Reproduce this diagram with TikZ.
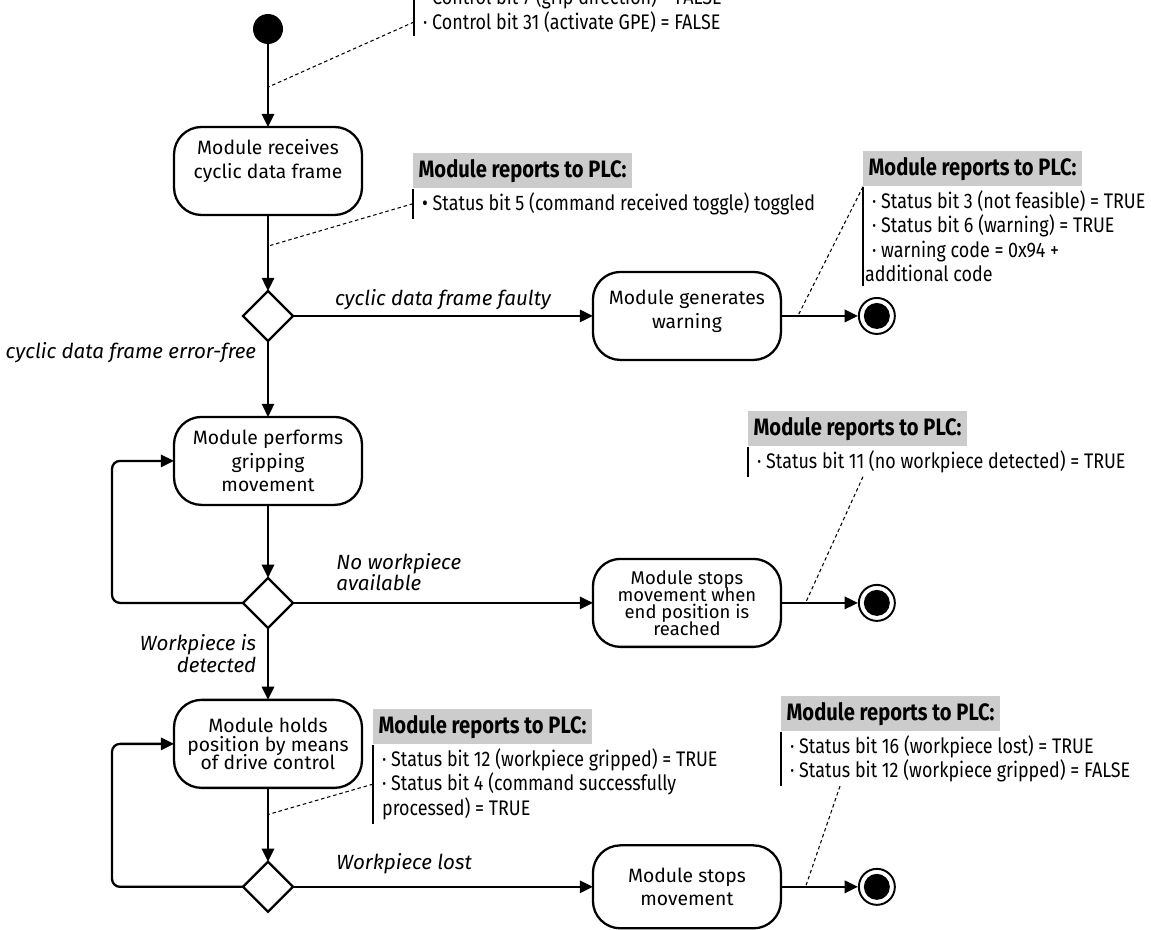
\documentclass[tikz,border=0pt]{standalone}
\usepackage{fontspec}
\setmainfont{Fira Sans}
\newfontfamily\notefont[FakeStretch=0.85]{Fira Sans}
\usetikzlibrary{arrows.meta,positioning,shapes.geometric}
\definecolor{hdrgray}{HTML}{CCCCCC}

\begin{document}
\begin{tikzpicture}[x=0.02cm,y=-0.02cm,
  act/.style={draw,line width=1.3pt,outer sep=0pt,rounded corners=0.55cm,minimum width=3.76cm,minimum height=1.76cm,
              align=center,font={\fontsize{11}{13.6}\selectfont\lineskiplimit-10pt}},
  dec/.style={diamond,draw,line width=1.3pt,outer sep=0pt,minimum size=1cm,inner sep=0pt},
  init/.style={circle,fill=black,minimum size=0.6cm,inner sep=0pt,outer sep=0pt},
  final/.style={circle,draw,line width=1.1pt,minimum size=0.72cm,inner sep=0pt,
              path picture={\fill (path picture bounding box.center) circle (0.26cm);}},
  hdr/.style={fill=hdrgray,minimum height=0.68cm,inner xsep=3pt,anchor=north west,
              font=\notefont\fontsize{13.5}{16}\selectfont\bfseries},
  note/.style={anchor=north west,align=left,inner xsep=5pt,inner ysep=2pt,font=\notefont\fontsize{12}{13.9}\selectfont},
  bar/.style={line width=1.2pt},
  flow/.style={-{Triangle[length=7.5pt,width=7pt]},line width=1.3pt},
  lnk/.style={dash pattern=on 2pt off 1.6pt,line width=0.6pt},
  lbl/.style={font=\itshape\fontsize{11.7}{12.5}\selectfont,inner sep=1pt}]
  \useasboundingbox (0,0) rectangle (1151,929);
  \clip (0,0) rectangle (1151,929);

  \node[init] (start) at (268,29) {};
  \node[act,below=1.66cm of start] (recv) {Module receives\\cyclic data frame\\\mbox{}};
  \node[dec,below=1.52cm of recv] (d1) {};
  \node[act,below=1.52cm of d1] (grip) {Module performs\\gripping\\movement};
  \node[dec,below=1.46cm of grip] (d2) {};
  \node[act,below=1.44cm of d2,font={\fontsize{11}{10.8}\selectfont\lineskiplimit-10pt}] (hold) {Module holds\\position by means\\of drive control};
  \node[dec,below=1.48cm of hold] (d3) {};
  \node[act,right=6cm of d1] (warn) {Module generates\\warning\\[-6pt]\mbox{}};
  \node[act,right=6cm of d2,font={\fontsize{10.5}{9.7}\selectfont\lineskiplimit-10pt}] (stop1) {Module stops\\movement when\\end position is\\reached};
  \node[act,right=6cm of d3,minimum height=1.66cm] (stop2) {Module stops\\movement};
  \node[final,right=1.54cm of warn] (end1) {};
  \node[final,right=1.54cm of stop1] (end2) {};
  \node[final,right=1.54cm of stop2] (end3) {};

  \draw[flow] (start) -- coordinate[pos=0.52] (m0) (recv);
  \draw[flow] (recv) -- coordinate[pos=0.41] (m1) (d1);
  \draw[flow] (d1) -- node[lbl,above=2pt] {cyclic data frame faulty} (warn);
  \draw[flow] (warn) -- coordinate[pos=0.22] (m2) (end1);
  \draw[flow] (d1) -- node[lbl,pos=0.15,left=0.18cm] {cyclic data frame error-free} (grip);
  \draw[flow] (grip) -- (d2);
  \draw[flow] (d2) -- node[lbl,pos=0.135,above right,yshift=5pt,align=left] {No workpiece\\available} (stop1);
  \draw[flow] (stop1) -- coordinate[pos=0.32] (m3) (end2);
  \draw[flow,rounded corners=0.16cm] (d2.west) -- ++(-131,0) |- (grip.west);
  \draw[flow] (d2) -- node[lbl,pos=0.36,left=0.18cm,align=right] {Workpiece is\\detected} (hold);
  \draw[flow] (hold) -- coordinate[pos=0.36] (m4) (d3);
  \draw[flow] (d3) -- node[lbl,pos=0.135,above right,yshift=5.5pt] {Workpiece lost} (stop2);
  \draw[flow] (stop2) -- coordinate[pos=0.32] (m5) (end3);
  \draw[flow,rounded corners=0.16cm] (d3.west) -- ++(-131,0) |- (hold.west);

  \node[note,anchor=south west] (n0) at (414,36) {· Control bit 7 (grip direction) = FALSE\\· Control bit 31 (activate GPE) = FALSE};
  \node[hdr] (h1) at (413,153) {Module reports to PLC:};
  \node[note] (n1) at (h1.south west) {• Status bit 5 (command received toggle) toggled};
  \node[hdr] (h2) at (863,151) {Module reports to PLC:};
  \node[note] (n2) at (h2.south west) {· Status bit 3 (not feasible) = TRUE\\· Status bit 6 (warning) = TRUE\\· warning code = 0x94 +\\\hspace*{-4pt}additional code};
  \node[hdr] (h3) at (748,411) {Module reports to PLC:};
  \node[note] (n3) at (h3.south west) {· Status bit 11 (no workpiece detected) = TRUE};
  \node[hdr] (h4) at (373,709) {Module reports to PLC:};
  \node[note] (n4) at (h4.south west) {· Status bit 12 (workpiece gripped) = TRUE\\· Status bit 4 (command successfully\\processed) = TRUE};
  \node[hdr] (h5) at (781,696) {Module reports to PLC:};
  \node[note] (n5) at (h5.south west) {· Status bit 16 (workpiece lost) = TRUE\\· Status bit 12 (workpiece gripped) = FALSE};
  \foreach \n in {n0,n1,n2,n3,n4,n5} \draw[bar] (\n.north west) -- (\n.south west);

  \draw[lnk] ([yshift=0.28cm]n0.south west) -- (m0);
  \draw[lnk] (n1.west) -- (m1);
  \draw[lnk] (n2.north west) -- (m2);
  \draw[lnk] ([xshift=2.3cm]n3.south west) -- (m3);
  \draw[lnk] (n4.west) -- (m4);
  \draw[lnk] ([xshift=1.18cm]n5.south west) -- (m5);
\end{tikzpicture}
\end{document}
